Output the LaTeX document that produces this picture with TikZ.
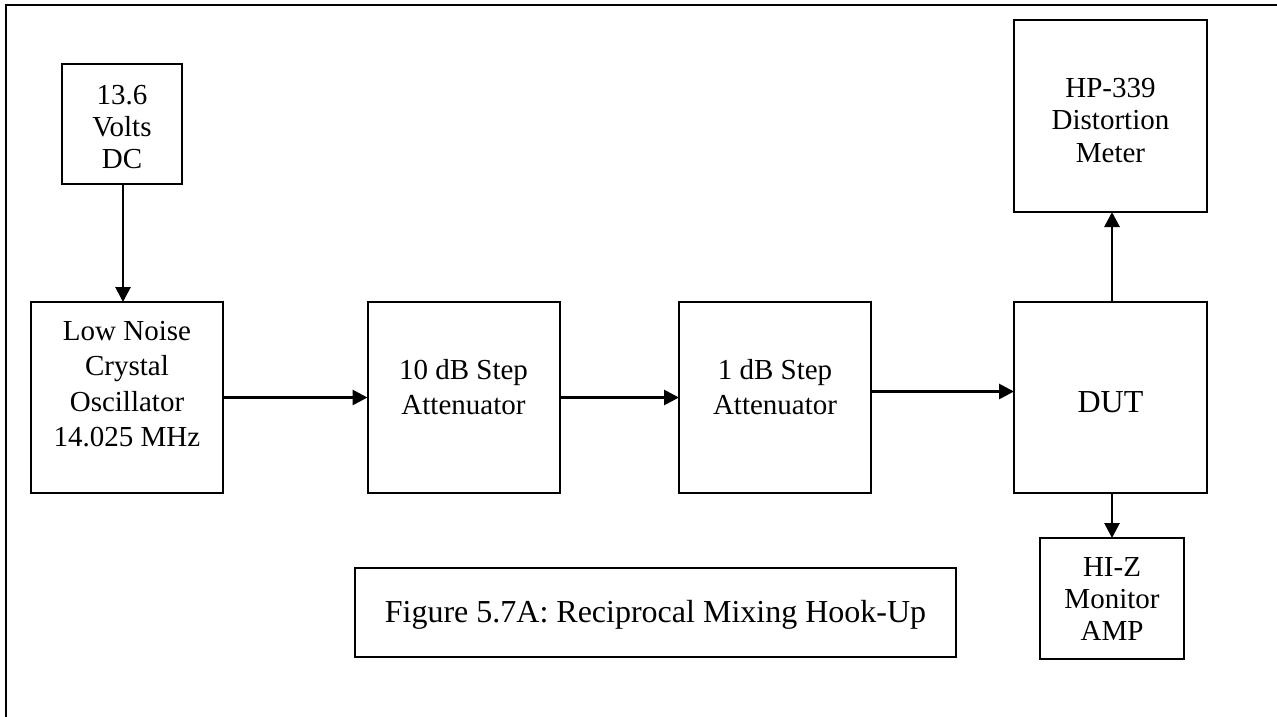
\documentclass[tikz,border=0pt]{standalone}
\usepackage{fontspec}
\setmainfont{Liberation Serif}
\usetikzlibrary{arrows.meta}
\tikzset{
  blk/.style={draw, line width=2pt, inner sep=0pt, outer sep=0pt},
  txt/.style={align=center, inner sep=0pt, outer sep=0pt},
  conn/.style={line width=2.8pt, -{Triangle[length=15pt,width=15pt]}},
  frame/.style={line width=2pt},
  fsa/.style={font=\fontsize{29}{32}\selectfont},
  fsh/.style={font=\fontsize{29}{32.5}\selectfont},
  fsb/.style={font=\fontsize{29}{35.3}\selectfont},
  fsc/.style={font=\fontsize{29}{35}\selectfont},
  fsd/.style={font=\fontsize{29}{32}\selectfont},
  fse/.style={font=\fontsize{32}{38}\selectfont},
}
\begin{document}
\begin{tikzpicture}[x=1pt,y=-1pt]
\useasboundingbox (0,0) rectangle (1277,717);
\clip (0,0) rectangle (1277,717);
\fill[white] (0,0) rectangle (1277,717);
% outer frame (only left and top edges visible)
\draw[frame] (6,740) -- (6,5) -- (1300,5);
% boxes
\node[blk, minimum width=120pt, minimum height=120pt] (dc) at (122,124) {};
\node[blk, minimum width=192pt, minimum height=191pt] (osc) at (127,397.5) {};
\node[blk, minimum width=192pt, minimum height=191pt] (att10) at (463.5,397.5) {};
\node[blk, minimum width=192pt, minimum height=191pt] (att1) at (775,397.5) {};
\node[blk, minimum width=193pt, minimum height=191pt] (dut) at (1110.5,397.5) {};
\node[blk, minimum width=193pt, minimum height=192pt] (hp) at (1110.5,116) {};
\node[blk, minimum width=144pt, minimum height=121pt] (hiz) at (1112,598.5) {};
\node[blk, minimum width=601pt, minimum height=89pt] (cap) at (655.5,612.5) {};
% texts
\node[txt, fsa] (dct) at (122,127) {13.6\\Volts\\DC};
\node[txt, fsh] (hpt) at (1110.5,120.5) {HP-339\\Distortion\\Meter};
\node[txt, fsb] (osct) at (127,384) {Low Noise\\Crystal\\Oscillator\\14.025 MHz};
\node[txt, fsc] (att10t) at (463.5,387.5) {10 dB Step\\Attenuator};
\node[txt, fsc] (att1t) at (775,387.5) {1 dB Step\\Attenuator};
\node[txt, fse, anchor=base] (dutt) at (1110.5,412) {DUT};
\node[txt, fsd] (hizt) at (1112,598.5) {HI-Z\\Monitor\\AMP};
\node[txt, fse, anchor=base] (capt) at (655.5,622) {Figure 5.7A: Reciprocal Mixing Hook-Up};
% connectors
\draw[conn] ([xshift=1pt]dc.south) -- ([xshift=1pt]dc.south |- osc.north);
\draw[conn] (osc.east) -- (att10.west);
\draw[conn] (att10.east) -- (att1.west);
\draw[conn] ([yshift=6pt]att1.east) -- ([yshift=6pt]att1.east -| dut.west);
\draw[conn] ([xshift=1.5pt]dut.north) -- ([xshift=1.5pt]dut.north |- hp.south);
\draw[conn] ([xshift=1.5pt]dut.south) -- ([xshift=1.5pt]dut.south |- hiz.north);
\end{tikzpicture}
\end{document}
